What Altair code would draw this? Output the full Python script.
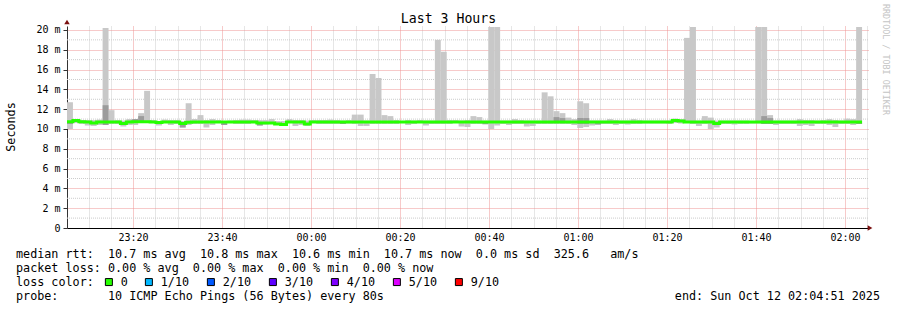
import altair as alt
import pandas as pd

# ---------------- data ----------------
START = "2025-10-11 23:05:10"      # left edge of the plot (UTC shown as local)
STEP_SECONDS = 80
N_SLOTS = 135                        # 3 hours of 80 s steps

# outer smoke (min..max of the 10 pings) per step, ms
smoke_lo = [10.0, 10.6, 10.5, 10.35, 10.3, 10.4, 10.4, 10.5, 10.5, 10.25,
            10.4, 10.4, 10.6, 10.6, 10.6, 10.35, 10.6, 10.4, 10.5, 10.15,
            10.4, 10.5, 10.5, 10.15, 10.4, 10.6, 10.4, 10.6, 10.5, 10.5,
            10.5, 10.6, 10.35, 10.45, 10.5, 10.4, 10.4, 10.6, 10.3, 10.4,
            10.3, 10.6, 10.5, 10.5, 10.5, 10.5, 10.5, 10.55, 10.5, 10.3,
            10.3, 10.5, 10.5, 10.5, 10.5, 10.5, 10.6, 10.4, 10.5, 10.6,
            10.35, 10.5, 10.5, 10.5, 10.5, 10.6, 10.25, 10.2, 10.5, 10.5,
            10.45, 10.0, 10.35, 10.5, 10.4, 10.5, 10.5, 10.25, 10.3, 10.5,
            10.5, 10.5, 10.5, 10.5, 10.5, 10.4, 10.1, 10.2, 10.35, 10.45,
            10.5, 10.5, 10.4, 10.5, 10.45, 10.5, 10.5, 10.55, 10.55, 10.55,
            10.55, 10.5, 10.6, 10.55, 10.6, 10.5, 10.3, 10.5, 10.0, 10.15,
            10.5, 10.5, 10.45, 10.5, 10.5, 10.55, 10.55, 10.5, 10.5, 10.4,
            10.5, 10.5, 10.5, 10.3, 10.4, 10.3, 10.5, 10.5, 10.4, 10.2,
            10.5, 10.5, 10.4, 10.5]
smoke_hi = [12.7, 10.95, 10.9, 10.9, 10.9, 10.95, 20.2, 11.9, 10.9, 10.85,
            11.0, 11.0, 11.6, 13.85, 10.9, 10.8, 10.95, 10.9, 10.9, 10.8,
            12.6, 11.0, 11.4, 10.9, 11.0, 10.9, 10.8, 10.85, 10.9, 10.95,
            10.95, 10.9, 10.9, 10.9, 11.0, 10.8, 10.8, 11.0, 10.9, 10.9,
            10.85, 10.9, 10.9, 10.9, 10.95, 10.9, 10.85, 10.9, 11.45, 11.45,
            10.85, 15.55, 15.15, 11.4, 11.3, 10.9, 10.8, 10.9, 10.85, 10.9,
            10.85, 10.85, 19.0, 17.8, 10.9, 10.9, 10.85, 10.9, 11.3, 11.2,
            10.85, 20.3, 20.3, 10.85, 10.85, 11.0, 10.9, 10.85, 10.85, 10.85,
            13.7, 13.3, 11.8, 11.6, 11.15, 11.0, 12.8, 12.6, 10.85, 10.85,
            10.85, 11.0, 10.9, 10.85, 10.85, 11.0, 10.9, 10.85, 10.85, 10.85,
            10.85, 10.85, 11.05, 11.0, 19.2, 20.3, 10.85, 11.3, 11.15, 10.85,
            10.85, 10.85, 10.85, 10.85, 10.85, 10.8, 20.3, 20.3, 11.4, 10.85,
            10.85, 10.85, 10.85, 11.0, 10.9, 10.9, 10.85, 10.9, 11.0, 10.9,
            10.85, 11.05, 11.0, 20.3]
# median rtt per step, ms (loss 0 everywhere)
median = [10.72, 10.85, 10.72, 10.7, 10.6, 10.7, 10.7, 10.7, 10.7, 10.55,
          10.7, 10.72, 10.72, 10.72, 10.7, 10.65, 10.7, 10.7, 10.7, 10.55,
          10.68, 10.7, 10.7, 10.7, 10.7, 10.7, 10.7, 10.7, 10.7, 10.7,
          10.7, 10.7, 10.6, 10.6, 10.6, 10.5, 10.45, 10.7, 10.7, 10.7,
          10.5, 10.7, 10.7, 10.7, 10.7, 10.7, 10.7, 10.7, 10.7, 10.7,
          10.7, 10.7, 10.7, 10.7, 10.7, 10.7, 10.7, 10.7, 10.7, 10.7,
          10.7, 10.7, 10.7, 10.7, 10.7, 10.7, 10.7, 10.7, 10.7, 10.7,
          10.7, 10.7, 10.7, 10.7, 10.7, 10.7, 10.7, 10.7, 10.7, 10.7,
          10.7, 10.7, 10.7, 10.7, 10.7, 10.7, 10.7, 10.7, 10.7, 10.7,
          10.7, 10.7, 10.7, 10.7, 10.7, 10.7, 10.7, 10.7, 10.7, 10.7,
          10.7, 10.7, 10.85, 10.8, 10.7, 10.7, 10.7, 10.7, 10.7, 10.55,
          10.7, 10.7, 10.7, 10.7, 10.7, 10.7, 10.7, 10.7, 10.7, 10.7,
          10.7, 10.7, 10.7, 10.7, 10.7, 10.7, 10.7, 10.7, 10.7, 10.7,
          10.7, 10.7, 10.7, 10.7]
# darker inner smoke, only where it shows
dark_step = [0, 6, 11, 12, 19, 26, 32, 40, 46, 70, 82, 83, 86, 87, 89, 117, 118, 133]
dark_lo = [10.5, 10.4, 10.7, 10.8, 10.15, 10.4, 10.35, 10.4, 10.5, 10.5, 10.8, 10.8,
           10.5, 10.5, 10.45, 10.5, 10.5, 10.5]
dark_hi = [10.75, 12.4, 11.0, 11.3, 10.45, 10.6, 10.6, 10.6, 10.65, 10.8, 11.2, 11.1,
           11.1, 11.1, 10.6, 11.3, 11.1, 10.6]

x_major_labels = ["23:20", "23:40", "00:00", "00:20", "00:40", "01:00", "01:20", "01:40", "02:00"]
y_major = [0, 2, 4, 6, 8, 10, 12, 14, 16, 18, 20]
y_minor = [1, 3, 5, 7, 9, 11, 13, 15, 17, 19]
loss_labels = ["0", "1/10", "2/10", "3/10", "4/10", "5/10", "9/10"]
loss_colors = ["#26ff00", "#00b8ff", "#0059ff", "#5e00ff", "#7e00ff", "#dd00ff", "#ff0000"]

title_text = "Last 3 Hours"
line_rtt = "median rtt:  10.7 ms avg  10.8 ms max  10.6 ms min  10.7 ms now  0.0 ms sd  325.6   am/s"
line_loss = "packet loss: 0.00 % avg  0.00 % max  0.00 % min  0.00 % now"
line_probe = "probe:       10 ICMP Echo Pings (56 Bytes) every 80s"
line_end = "end: Sun Oct 12 02:04:51 2025"
side_text = "RRDTOOL / TOBI OETIKER"
y_title = "Seconds"

# ---------------- tables ----------------
start_ms = pd.Timestamp(START, tz="UTC").value // 10**6
step_ms = STEP_SECONDS * 1000
n = len(median)
t0 = [start_ms + k * step_ms for k in range(n)]
t1 = [t + step_ms for t in t0]
smoke = pd.DataFrame({"t0": t0, "t1": t1, "lo": smoke_lo, "hi": smoke_hi})
dark = pd.DataFrame({"t0": [t0[k] for k in dark_step], "t1": [t1[k] for k in dark_step],
                     "lo": dark_lo, "hi": dark_hi})
med = pd.DataFrame({"t": t0 + [t1[-1]], "med": median + [median[-1]]})
loss_df = pd.DataFrame({"loss": loss_labels})
minor_df = pd.DataFrame({"v": y_minor})
one = pd.DataFrame({"a": [0]})

domain_x = [start_ms, start_ms + N_SLOTS * step_ms]
minor_vals = []
tt = pd.Timestamp("2025-10-11 23:10:00", tz="UTC")
end_t = pd.Timestamp(domain_x[1], unit="ms", tz="UTC")
while tt <= end_t:
    minor_vals.append(tt.value // 10**6)
    tt += pd.Timedelta(minutes=5)

MONO = "DejaVu Sans Mono"
RED_GRID = "#ee9494"
GREY_GRID = "#cccccc"

xscale = alt.Scale(type="utc", domain=domain_x)
yscale = alt.Scale(domain=[0, 20.4], nice=False, zero=True)

xaxis = alt.Axis(
    values=minor_vals, title=None, ticks=False, labelFont=MONO, labelFontSize=10,
    labelColor="black", labelPadding=4, labelOverlap=False, labelFlush=False,
    labelExpr="utcminutes(datum.value) % 20 == 0 ? utcFormat(datum.value, '%H:%M') : ''",
    domainColor="black", domainWidth=1,
    grid=True, gridDash=[1, 1], gridWidth=1,
    gridColor={"condition": {"test": "utcminutes(datum.value) % 20 == 0", "value": RED_GRID},
               "value": GREY_GRID},
)
yaxis = alt.Axis(
    values=y_major, title=None, labelFont=MONO, labelFontSize=10, labelColor="black",
    labelPadding=3, tickSize=4, tickColor="#333333", labelOverlap=False,
    labelExpr="datum.value == 0 ? '0' : datum.value + ' m'",
    domainColor="#333333", domainWidth=1,
    grid=True, gridDash=[1, 1], gridWidth=1, gridColor=RED_GRID,
)

minor_grid = alt.Chart(minor_df).mark_rule(color=GREY_GRID, strokeDash=[1, 1],
                                           strokeWidth=1).encode(
    y=alt.Y("v:Q", scale=yscale, axis=yaxis))
smoke_layer = alt.Chart(smoke).mark_rect(color="#c8c8c8", clip=True).encode(
    x=alt.X("t0:T", scale=xscale, axis=xaxis), x2="t1:T",
    y=alt.Y("lo:Q", scale=yscale, axis=yaxis), y2="hi:Q")
dark_layer = alt.Chart(dark).mark_rect(color="#9c9c9c", clip=True).encode(
    x=alt.X("t0:T", scale=xscale, axis=xaxis), x2="t1:T",
    y=alt.Y("lo:Q", scale=yscale, axis=yaxis), y2="hi:Q")
med_layer = alt.Chart(med).mark_line(interpolate="step-after", color="#26ff00",
                                     strokeWidth=3, clip=True).encode(
    x=alt.X("t:T", scale=xscale, axis=xaxis), y=alt.Y("med:Q", scale=yscale, axis=yaxis))

legend_layer = alt.Chart(loss_df).mark_square(opacity=0).encode(
    x=alt.value(0), y=alt.value(0),
    color=alt.Color("loss:N", sort=loss_labels,
                    scale=alt.Scale(domain=loss_labels, range=loss_colors),
                    legend=alt.Legend(
                        title="loss color:", orient="none", legendX=-51, legendY=250,
                        direction="horizontal", titleOrient="left", titlePadding=9,
                        titleFont=MONO, titleFontSize=11.75, titleFontWeight="normal",
                        titleColor="black", titleBaseline="middle",
                        labelFont=MONO, labelFontSize=11.75, labelColor="black",
                        labelOffset=6, columnPadding=15, symbolType="square",
                        symbolSize=49, symbolStrokeColor="black", symbolStrokeWidth=1,
                        symbolOpacity=1, padding=0, offset=0)))


def txt(s, x, y, size=11.75, align="left", color="black", angle=0):
    return alt.Chart(one).mark_text(
        text=s.replace(" ", "\u00a0"), font=MONO, fontSize=size, align=align,
        baseline="middle", color=color, angle=angle).encode(
        x=alt.value(x), y=alt.value(y))


texts = [
    txt(title_text, 381.5, -7, size=13.2, align="center"),
    txt(line_rtt, -51, 228),
    txt(line_loss, -51, 242),
    txt(line_probe, -51, 270),
    txt(line_end, 813, 270, align="right"),
    txt(y_title, -56, 101, align="center", angle=270),
    txt(side_text, 819, 33.5, size=8.4, align="center", color="#c4c4c4", angle=90),
]

arrows = [
    alt.Chart(one).mark_point(shape="triangle-up", filled=True, size=30, color="#7a1010",
                              opacity=1).encode(x=alt.value(0), y=alt.value(-4)),
    alt.Chart(one).mark_point(shape="triangle-right", filled=True, size=30, color="#7a1010",
                              opacity=1).encode(x=alt.value(803), y=alt.value(202)),
]

chart = alt.layer(minor_grid, smoke_layer, dark_layer, med_layer, legend_layer,
                  *texts, *arrows).properties(
    width=801, height=202,
    padding={"left": 67, "top": 26, "right": 29, "bottom": 82},
    autosize=alt.AutoSizeParams(type="none"),
    background="white",
).configure_view(stroke=None)

chart.save("out.html", embed_options={"renderer": "svg", "actions": False})
